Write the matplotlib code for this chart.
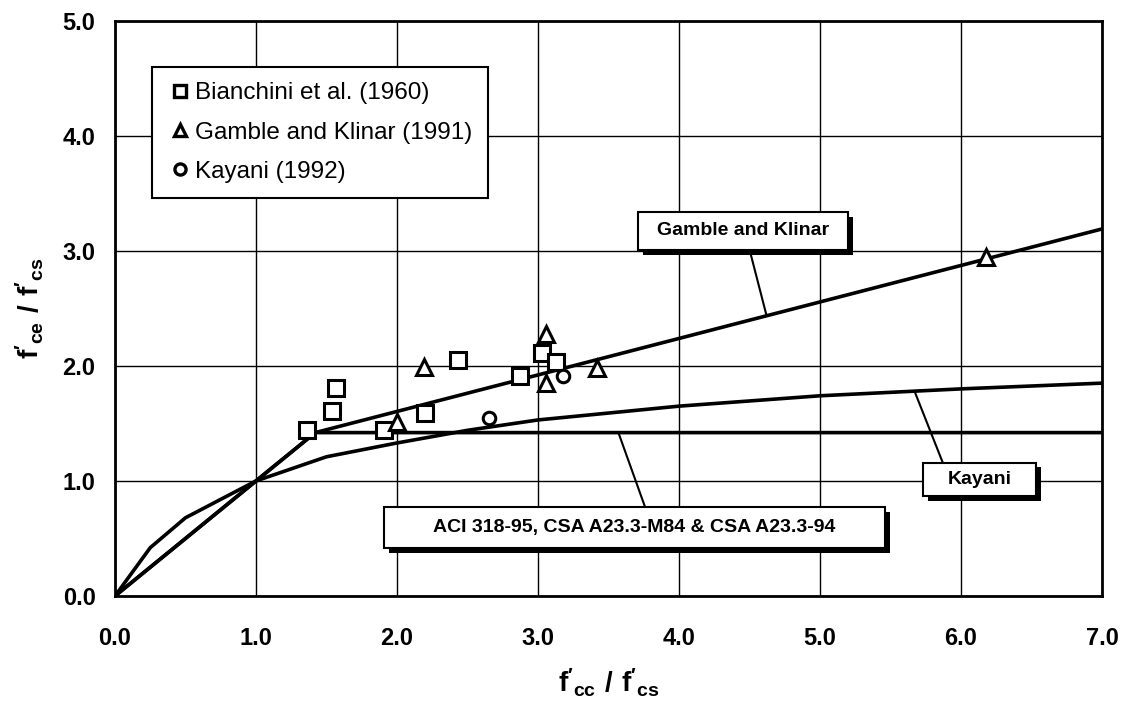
import matplotlib
matplotlib.use("Agg")
import matplotlib.pyplot as plt
import matplotlib.patheffects as pe
from matplotlib.patches import Rectangle
from matplotlib.lines import Line2D

plt.rcParams['font.family'] = ['Liberation Sans', 'DejaVu Sans']
plt.rcParams['mathtext.fontset'] = 'custom'
plt.rcParams['mathtext.rm'] = 'Liberation Sans'
plt.rcParams['mathtext.bf'] = 'Liberation Sans:bold'

# test data
bianchini_x = [1.36, 1.54, 1.57, 1.91, 2.20, 2.43, 2.87, 3.03, 3.13]
bianchini_y = [1.44, 1.61, 1.81, 1.44, 1.59, 2.05, 1.91, 2.11, 2.03]
gamble_x = [2.00, 2.19, 3.06, 3.06, 3.42, 6.18]
gamble_y = [1.51, 1.99, 2.28, 1.85, 1.98, 2.95]
kayani_x = [2.65, 3.18]
kayani_y = [1.55, 1.91]

# design curves
aci_x = [0.0, 1.42, 7.0]
aci_y = [0.0, 1.42, 1.42]
gk_x = [0.0, 1.42, 7.0]
gk_y = [0.0, 1.42, 3.19]
kay_x = [0.0, 0.25, 0.5, 1.0, 1.5, 2.0, 2.5, 3.0, 4.0, 5.0, 6.0, 7.0]
kay_y = [0.0, 0.42, 0.68, 1.0, 1.21, 1.33, 1.44, 1.53, 1.65, 1.74, 1.80, 1.85]

xticks = [0, 1, 2, 3, 4, 5, 6, 7]
yticks = [0, 1, 2, 3, 4, 5]

fig, ax = plt.subplots(figsize=(11.33, 7.05), dpi=100)
fig.subplots_adjust(left=0.1015, right=0.9727, bottom=0.1546, top=0.9707)

ax.set_xlim(0, 7)
ax.set_ylim(0, 5)
ax.set_xticks(xticks)
ax.set_yticks(yticks)
ax.set_xticklabels(['%.1f' % t for t in xticks], fontsize=17, fontweight='bold')
ax.set_yticklabels(['%.1f' % t for t in yticks], fontsize=17, fontweight='bold')
ax.tick_params(axis='x', length=0, pad=22)
ax.tick_params(axis='y', length=0, pad=14)
ax.grid(True, color='black', lw=1.0)
ax.set_axisbelow(True)
for s in ax.spines.values():
    s.set_linewidth(2)

ax.plot(aci_x, aci_y, color='black', lw=2.6, zorder=3)
ax.plot(gk_x, gk_y, color='black', lw=2.6, zorder=3)
ax.plot(kay_x, kay_y, color='black', lw=2.6, zorder=3)

mk = dict(ls='none', mfc='white', mec='black', mew=2.2, zorder=4)
ax.plot(bianchini_x, bianchini_y, marker='s', ms=11, **mk)
ax.plot(gamble_x, gamble_y, marker='^', ms=11, **mk)
ax.plot(kayani_x, kayani_y, marker='o', ms=9, **mk)

shadow = [pe.SimplePatchShadow(offset=(3.5, -3.5), shadow_rgbFace='black', alpha=1.0), pe.Normal()]

def callout(x0, y0, x1, y1, label, tip, base):
    ax.plot([base[0], tip[0]], [base[1], tip[1]], color='black', lw=1.5, zorder=5)
    r = Rectangle((x0, y0), x1 - x0, y1 - y0, fc='white', ec='black', lw=1.5, zorder=6)
    r.set_path_effects(shadow)
    ax.add_patch(r)
    ax.text((x0 + x1) / 2, (y0 + y1) / 2, label, ha='center', va='center',
            fontsize=14, fontweight='bold', zorder=7)

callout(3.71, 3.01, 5.20, 3.34, 'Gamble and Klinar', (4.62, 2.44), (4.50, 3.01))
callout(5.73, 0.87, 6.53, 1.16, 'Kayani', (5.67, 1.78), (5.87, 1.16))
callout(1.91, 0.42, 5.46, 0.77, 'ACI 318-95, CSA A23.3-M84 & CSA A23.3-94', (3.57, 1.42), (3.76, 0.77))

handles = [
    Line2D([], [], marker='s', ms=9, ls='none', mfc='white', mec='black', mew=2.4),
    Line2D([], [], marker='^', ms=9, ls='none', mfc='white', mec='black', mew=2.4),
    Line2D([], [], marker='o', ms=8, ls='none', mfc='white', mec='black', mew=2.4),
]
labels = ['Bianchini et al. (1960)', 'Gamble and Klinar (1991)', 'Kayani (1992)']
leg = ax.legend(handles, labels, loc='upper left', bbox_to_anchor=(0.26 / 7, 4.60 / 5),
                fontsize=17.5, handlelength=1.0, handletextpad=0.15, borderpad=0.65,
                labelspacing=0.7, fancybox=False, framealpha=1, edgecolor='black',
                borderaxespad=0)
leg.get_frame().set_linewidth(1.5)
leg.set_zorder(8)

ax.set_xlabel(r"$\mathbf{f'_{cc}\ /\ f'_{cs}}$", fontsize=20, labelpad=12)
ax.set_ylabel(r"$\mathbf{f'_{ce}\ /\ f'_{cs}}$", fontsize=20, labelpad=12)

fig.savefig('out.png', dpi=100)
